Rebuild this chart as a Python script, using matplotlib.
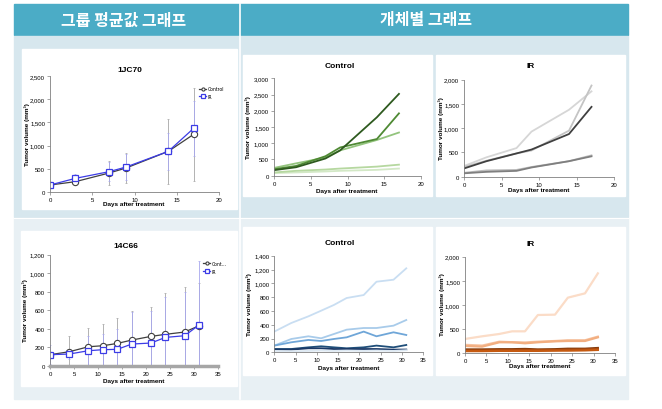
import numpy as np
import matplotlib
matplotlib.use("Agg")
import matplotlib.pyplot as plt
import matplotlib.patches as mpatches
from matplotlib.ticker import FuncFormatter, MultipleLocator

W, H = 662, 410

# ---------------- data ----------------
# group mean, model 1 (top row)
days_a = [0, 3, 7, 9, 14, 17]
ctrl_a = [145, 217, 405, 513, 874, 1243]
ir_a = [145, 289, 434, 535, 874, 1373]
ctrl_a_sd = [30, 80, 260, 330, 700, 1010]
ir_a_sd = [40, 100, 200, 280, 400, 600]

# individual animals, model 1
ctrl_a_ind = [
    [170, 260, 530, 780, 1800, 2520],
    [200, 300, 600, 870, 1130, 1920],
    [240, 380, 560, 780, 1100, 1330],
    [100, 150, 190, 220, 280, 340],
    [80, 100, 130, 150, 180, 220],
]
ir_a_ind = [
    [220, 400, 590, 930, 1380, 1760],
    [200, 330, 480, 540, 950, 1880],
    [170, 320, 480, 560, 880, 1440],
    [80, 130, 140, 200, 320, 440],
    [70, 100, 120, 190, 320, 420],
]

# group mean, model 2 (14C66, bottom row)
days_b = [0, 4, 8, 11, 14, 17, 21, 24, 28, 31]
ctrl_b = [119, 151, 205, 216, 241, 277, 317, 339, 364, 432]
ir_b = [119, 126, 162, 173, 177, 234, 245, 306, 324, 440]
ctrl_b_sd = [20, 165, 200, 235, 270, 310, 320, 445, 485, 460]
ir_b_sd = [100, 50, 160, 170, 225, 345, 350, 435, 470, 690]

ctrl_b_ind = [
    [300, 425, 521, 603, 686, 787, 830, 1023, 1052, 1217],
    [97, 193, 232, 203, 265, 328, 352, 352, 386, 468],
    [97, 145, 179, 164, 193, 217, 300, 232, 290, 251],
    [48, 48, 72, 87, 72, 58, 72, 97, 72, 106],
    [39, 39, 58, 58, 48, 48, 48, 48, 39, 40],
    [20, 15, 20, 25, 20, 25, 20, 25, 20, 30],
]
ir_b_ind = [
    [297, 352, 400, 455, 455, 793, 800, 1152, 1241, 1655],
    [175, 160, 240, 230, 225, 240, 255, 270, 270, 345],
    [152, 138, 228, 228, 207, 228, 248, 255, 255, 331],
    [80, 80, 85, 85, 90, 80, 85, 95, 95, 110],
    [60, 60, 65, 65, 70, 65, 65, 75, 80, 90],
    [45, 45, 50, 50, 50, 50, 55, 55, 60, 70],
]

greens = ['#2E5A1F', '#4F8A34', '#93C47D', '#B6D8A0', '#D3E8C6']
grays = ['#D6D6D6', '#C4C4C4', '#404040', '#BDBDBD', '#7F7F7F']
blues = ['#C9DEF2', '#A8CBEA', '#6FA6D8', '#1F4E79', '#1A3866', '#DDE8F2']
oranges = ['#FBDCC7', '#F6C2A0', '#F2AE80', '#843C0C', '#A9490F', '#C55A11']

fmt = FuncFormatter(lambda v, p: f'{int(v):,}')
tick_font = 'Liberation Sans'


def px_rect(l, t, r, b):
    return [l / W, 1 - b / H, (r - l) / W, (b - t) / H]


def style_axes(ax, xmax, ymax, ystep, thick_x=False):
    ax.set_xlim(0, xmax)
    ax.set_ylim(0, ymax)
    ax.xaxis.set_major_locator(MultipleLocator(5))
    ax.yaxis.set_major_locator(MultipleLocator(ystep))
    ax.yaxis.set_major_formatter(fmt)
    for s in ['top', 'right']:
        ax.spines[s].set_visible(False)
    ax.spines['left'].set_color('#808080')
    ax.spines['left'].set_linewidth(0.6)
    ax.spines['bottom'].set_color('#A6A6A6' if thick_x else '#808080')
    ax.spines['bottom'].set_linewidth(2.5 if thick_x else 0.6)
    ax.tick_params(direction='out', length=2, width=0.5, color='#808080',
                   labelsize=4.3, pad=1.5)
    for lab in ax.get_xticklabels() + ax.get_yticklabels():
        lab.set_fontfamily(tick_font)
    ax.patch.set_alpha(0)


fig = plt.figure(figsize=(W / 100, H / 100), dpi=100)

# background table drawn in pixel coordinates
bg = fig.add_axes([0, 0, 1, 1])
bg.set_xlim(0, W)
bg.set_ylim(H, 0)
bg.axis('off')
bg.add_patch(mpatches.Rectangle((14, 5), 614, 31, color='#4BACC6'))
bg.add_patch(mpatches.Rectangle((14, 37), 614, 181, color='#D7E7EE'))
bg.add_patch(mpatches.Rectangle((14, 219), 614, 181, color='#E8F0F4'))
bg.plot([240, 240], [5, 400], color='white', lw=1.2)
bg.plot([14, 628], [218.5, 218.5], color='white', lw=0.8)
for (x0, y0, x1, y1) in [(22, 50, 237, 210), (243, 56, 432, 197), (436, 56, 625, 197),
                         (21, 232, 237, 387), (243, 228, 432, 376), (436, 228, 625, 376)]:
    bg.add_patch(mpatches.Rectangle((x0, y0), x1 - x0, y1 - y0, color='white'))

hdr = dict(color='white', fontsize=11.5, fontweight='bold', ha='center', va='center',
           family=['Noto Sans CJK KR', 'DejaVu Sans'])
bg.text(124, 20.5, '그룹 평균값 그래프', **hdr)
bg.text(426, 20.5, '개체별 그래프', **hdr)

ttl = dict(fontsize=6, fontweight='bold', ha='center', va='center', family=tick_font)
lab = dict(fontsize=4.6, fontweight='bold', ha='center', va='center', family=tick_font)
ylab_txt = 'Tumor volume (mm³)'
xlab_txt = 'Days after treatment'

# ---- top left: group mean ----
ax = fig.add_axes(px_rect(50, 77.3, 219, 192.7))
ax.errorbar(days_a, ctrl_a, yerr=ctrl_a_sd, fmt='none', ecolor='#A6A6A6', elinewidth=0.6,
            capsize=1, capthick=0.5)
ax.errorbar(days_a, ir_a, yerr=ir_a_sd, fmt='none', ecolor='#A7A7EE', elinewidth=0.6,
            capsize=1, capthick=0.5)
ax.plot(days_a, ctrl_a, color='#404040', lw=0.9, marker='o', ms=4.5, mfc='white',
        mec='#404040', mew=0.8, label='Control')
ax.plot(days_a, ir_a, color='#3C3CE6', lw=0.9, marker='s', ms=5, mfc='white',
        mec='#3C3CE6', mew=0.9, label='IR')
style_axes(ax, 20, 2500, 500)
ax.legend(loc='upper right', bbox_to_anchor=(1.04, 0.93), frameon=False, fontsize=3.3,
          handlelength=1.5, markerscale=0.5, borderaxespad=0, labelspacing=0.6,
          handletextpad=0.3)
bg.text(130, 70, '1JC70', **ttl)
bg.text(134, 205, xlab_txt, **lab)
bg.text(27, 135, ylab_txt, rotation=90, **lab)

# ---- top middle: individual control ----
ax = fig.add_axes(px_rect(274, 79.3, 421, 176.7))
for vals, c in zip(ctrl_a_ind[::-1], greens[::-1]):
    ax.plot(days_a, vals, color=c, lw=1.3)
style_axes(ax, 20, 3000, 500)
bg.text(340, 67, 'Control', **ttl)
bg.text(347, 192, xlab_txt, **lab)
bg.text(248, 128, ylab_txt, rotation=90, **lab)

# ---- top right: individual IR ----
ax = fig.add_axes(px_rect(464, 80.7, 614, 177.7))
for vals, c in zip(ir_a_ind, grays):
    ax.plot(days_a, vals, color=c, lw=1.3)
style_axes(ax, 20, 2000, 500)
bg.text(531, 66, 'IR', **ttl)
bg.text(539, 191, xlab_txt, **lab)
bg.text(441, 129, ylab_txt, rotation=90, **lab)

# ---- bottom left: group mean 14C66 ----
ax = fig.add_axes(px_rect(50, 255.7, 218.3, 366.7))
ax.errorbar(days_b, ctrl_b, yerr=ctrl_b_sd, fmt='none', ecolor='#A6A6A6', elinewidth=0.6,
            capsize=1, capthick=0.5)
ax.errorbar(days_b, ir_b, yerr=ir_b_sd, fmt='none', ecolor='#A7A7EE', elinewidth=0.6,
            capsize=1, capthick=0.5)
ax.plot(days_b, ctrl_b, color='#404040', lw=0.9, marker='o', ms=4.5, mfc='white',
        mec='#404040', mew=0.8, label='Cont...')
ax.plot(days_b, ir_b, color='#3C3CE6', lw=0.9, marker='s', ms=5, mfc='white',
        mec='#3C3CE6', mew=0.9, label='IR')
style_axes(ax, 35, 1200, 200, thick_x=True)
ax.legend(loc='upper right', bbox_to_anchor=(1.06, 0.96), frameon=False, fontsize=3.3,
          handlelength=1.5, markerscale=0.5, borderaxespad=0, labelspacing=0.6,
          handletextpad=0.3)
bg.text(126, 247, '14C66', **ttl)
bg.text(134, 382, xlab_txt, **lab)
bg.text(25, 311, ylab_txt, rotation=90, **lab)

# ---- bottom middle: individual control ----
ax = fig.add_axes(px_rect(274.3, 256.7, 423.3, 353.3))
for vals, c in zip(ctrl_b_ind, blues):
    ax.plot(days_b, vals, color=c, lw=1.3)
style_axes(ax, 35, 1400, 200)
bg.text(340, 244, 'Control', **ttl)
bg.text(349, 369, xlab_txt, **lab)
bg.text(249, 305, ylab_txt, rotation=90, **lab)

# ---- bottom right: individual IR ----
ax = fig.add_axes(px_rect(465, 257.7, 615, 354.3))
for vals, c in zip(ir_b_ind, oranges):
    ax.plot(days_b, vals, color=c, lw=1.6)
style_axes(ax, 35, 2000, 500)
bg.text(531, 245, 'IR', **ttl)
bg.text(540, 367, xlab_txt, **lab)
bg.text(442, 305, ylab_txt, rotation=90, **lab)

fig.savefig('out.png', dpi=100)
